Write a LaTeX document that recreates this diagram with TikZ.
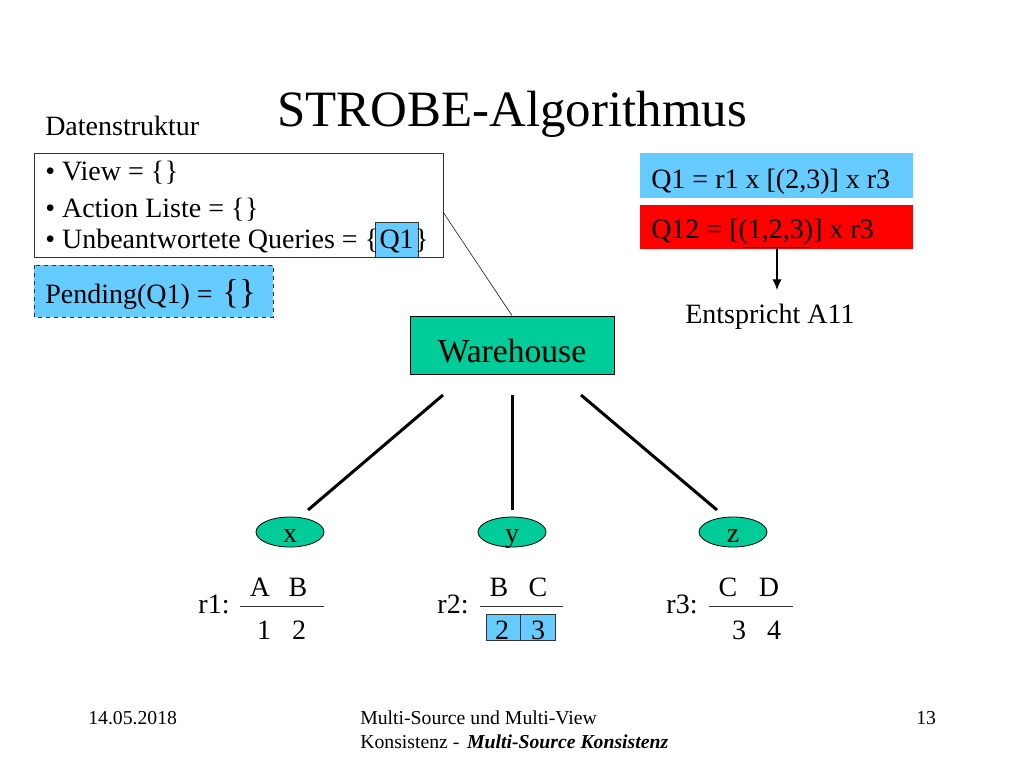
\documentclass[tikz,border=0pt]{standalone}
\usepackage{fontspec}
\setmainfont{Liberation Serif}
\usetikzlibrary{arrows.meta,positioning,shapes.geometric}
\definecolor{lblue}{HTML}{66CCFF}
\definecolor{lgreen}{HTML}{00CC99}
\newcommand{\leer}{\{\kern0.5pt\}}
\tikzset{
  txt/.style={inner sep=0pt,anchor=base west,font=\fontsize{21}{23}\selectfont},
  foot/.style={inner sep=0pt,anchor=base west,font=\fontsize{14.8}{16}\selectfont},
  leg/.style={draw=black!80,line width=0.7pt},
  rel/.style={inner sep=0pt,anchor=base,font=\fontsize{21}{23}\selectfont},
  src/.style={ellipse,draw,fill=lgreen,line width=0.6pt,minimum width=51pt,minimum height=22.5pt,inner sep=0pt,text height=15pt,text depth=0pt,font=\fontsize{21}{23}\selectfont},
  thickline/.style={line width=2.25pt},
}
\begin{document}
\begin{tikzpicture}[x=0.75pt,y=-0.75pt]
  \useasboundingbox (0,0) rectangle (1024,768);

  % title
  \node[inner sep=0pt,anchor=base west,font=\fontsize{38.2}{40}\selectfont] (title) at (277,126) {STROBE-Algorithmus};
  \node[txt] (datenstruktur) at (45,135) {Datenstruktur};

  % data structure
  \draw[leg,fill=white] (34,153) rectangle (443,257);
  \coordinate (boxend) at (443,212);
  \fill[lblue,draw=black!80,line width=0.7pt] (375,222) rectangle (418,257);
  \node[txt] (view) at (45,180) {• View = \leer};
  \node[txt] (action) at (45,217) {• Action Liste = \leer};
  \node[txt] (queries) at (45,248) {• Unbeantwortete Queries = \{\kern1pt Q1\kern1pt\}};
  \draw[leg,dashed,fill=lblue] (34,265) rectangle (273,317);
  \node[txt] (pending) at (45,303) {Pending(Q1) = {\kern2pt\fontsize{26}{26}\selectfont\{\}}};

  % queries
  \fill[lblue] (640,153) rectangle (913,198);
  \node[txt] (qone) at (651,188) {Q1 = r1 x [(2,3)] x r3};
  \fill[red] (640,205) rectangle (913,249);
  \node[txt] (qtwelve) at (651,238) {Q12 = [(1,2,3)] x r3};
  \coordinate (ulleft) at (743,247);
  \coordinate (ulright) at (811,247);
  \coordinate (ulmid) at (777,247);
  \coordinate (ulend) at (777,290);
  \node[txt] (entspricht) at (685,323) {Entspricht A11};
  \draw (ulleft) -- (ulright);
  \draw[-{Latex[length=8pt,width=7pt]},line width=0.9pt] (ulmid) -- (ulend);

  % warehouse
  \node[draw,fill=lgreen,line width=0.7pt,minimum width=153pt,minimum height=43.5pt,inner sep=0pt,text height=25.5pt,text depth=0pt,font=\fontsize{25.2}{27}\selectfont] (warehouse) at (512,345) {Warehouse};
  \draw (boxend) -- (warehouse.north);

  % sources
  \node[src] (x) at (290,532) {x};
  \node[src] (y) at (512,532) {y};
  \node[src] (z) at (733,532) {z};
  \coordinate (wx) at (443,395);
  \coordinate (wy) at (512,395);
  \coordinate (wz) at (581,395);
  \coordinate (xt) at (308,510);
  \coordinate (yt) at (512,510);
  \coordinate (zt) at (717,510);
  \draw[thickline] (wx) -- (xt);
  \draw[thickline] (wy) -- (yt);
  \draw[thickline] (wz) -- (zt);

  % relations
  \node[rel] (rone) at (214,613) {r1:};
  \node[rel] (aa) at (260,596) {A};
  \node[rel] (ab) at (298,596) {B};
  \draw[leg] (240,606) -- (324,606);
  \node[rel] (one) at (264,639) {1};
  \node[rel] (two) at (299,639) {2};

  \node[rel] (rtwo) at (453,613) {r2:};
  \node[rel] (bb) at (499,596) {B};
  \node[rel] (bc) at (538,596) {C};
  \draw[leg] (480,606) -- (563,606);
  \draw[leg,fill=lblue] (486,614) rectangle (555,640);
  \draw[leg] (520,614) -- (520,640);
  \node[rel] (ttwo) at (502,639) {2};
  \node[rel] (tthree) at (538,639) {3};

  \node[rel] (rthree) at (682,613) {r3:};
  \node[rel] (cc) at (728,596) {C};
  \node[rel] (cd) at (769,596) {D};
  \draw[leg] (709,606) -- (793,606);
  \node[rel] (three) at (739,639) {3};
  \node[rel] (four) at (774,639) {4};

  % footer
  \node[foot] (date) at (88,724) {14.05.2018};
  \node[foot] (foota) at (360,724) {Multi-Source und Multi-View};
  \node[foot] (footb) at (360,748) {Konsistenz - \kern2pt\textbf{\textit{Multi-Source Konsistenz}}};
  \node[foot] (page) at (916,724) {13};
\end{tikzpicture}
\end{document}
